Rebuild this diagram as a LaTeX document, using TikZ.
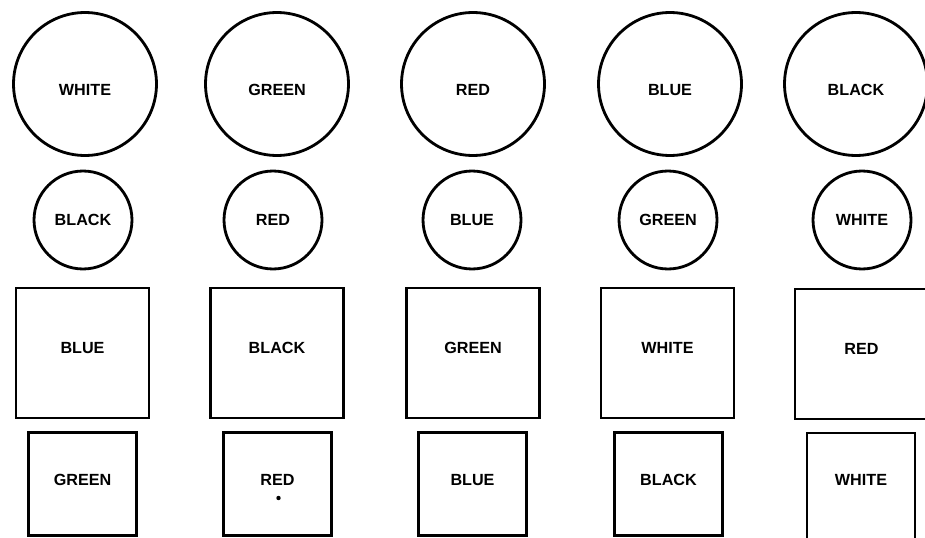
\documentclass[tikz,border=0pt]{standalone}
\usepackage{fontspec}
\setsansfont{Liberation Sans}
\usetikzlibrary{positioning}

\tikzset{
  tag/.style={font=\sffamily\bfseries\fontsize{9.2}{10}\selectfont, text=black},
  bigdisc/.style={tag, draw, circle, line width=1.6pt, inner sep=0pt, minimum size=2.86cm,
                  text height=6.6pt+0.22cm, text depth=0pt},
  smalldisc/.style={tag, draw, circle, line width=1.6pt, inner sep=0pt, minimum size=1.96cm},
  bigsquare/.style={tag, draw, rectangle, line width=1.6pt, inner sep=0pt,
                    minimum width=2.66cm, minimum height=2.6cm,
                    text height=6.6pt, text depth=0.2cm},
  smallsquare/.style={tag, draw, rectangle, line width=1.6pt, inner sep=0pt,
                      minimum width=2.16cm, minimum height=2.06cm,
                      text height=6.6pt, text depth=0.16cm}
}

\begin{document}
\begin{tikzpicture}[x=0.02cm, y=-0.02cm]

\useasboundingbox (0,0) rectangle (925,537);

% ── Row 1: large circles ────────────────────────────────────
\node[bigdisc] (cA1) at (85,84)  {WHITE};
\node[bigdisc] (cA2) at (277,84) {GREEN};
\node[bigdisc] (cA3) at (473,84) {RED};
\node[bigdisc] (cA4) at (670,84) {BLUE};
\node[bigdisc] (cA5) at (856,84) {BLACK};

% ── Row 2: small circles ────────────────────────────────────
\node[smalldisc] (cB1) at (83,220)  {BLACK};
\node[smalldisc] (cB2) at (273,220) {RED};
\node[smalldisc] (cB3) at (472,220) {BLUE};
\node[smalldisc] (cB4) at (668,220) {GREEN};
\node[smalldisc] (cB5) at (862,220) {WHITE};

% ── Row 3: large squares ────────────────────────────────────
\node[bigsquare] (sA1) at (82.5,353)  {BLUE};
\node[bigsquare] (sA2) at (277,353)   {BLACK};
\node[bigsquare] (sA3) at (473,353)   {GREEN};
\node[bigsquare] (sA4) at (667.5,353) {WHITE};
\node[bigsquare] (sA5) at (861.5,354) {RED};

% ── Row 4: small squares (cut by the lower edge) ────────────
\node[smallsquare] (sB1) at (82.5,484)  {GREEN};
\node[smallsquare] (sB2) at (277.5,484) {RED};
\node[smallsquare] (sB3) at (472.5,484) {BLUE};
\node[smallsquare] (sB4) at (668.5,484) {BLACK};
\node[smallsquare, minimum height=2.2cm, text depth=0.32cm] (sB5) at (861,488) {WHITE};

% speck below the label
\fill (sB2.center) ++(1,14) circle[radius=2.2];

\end{tikzpicture}
\end{document}
